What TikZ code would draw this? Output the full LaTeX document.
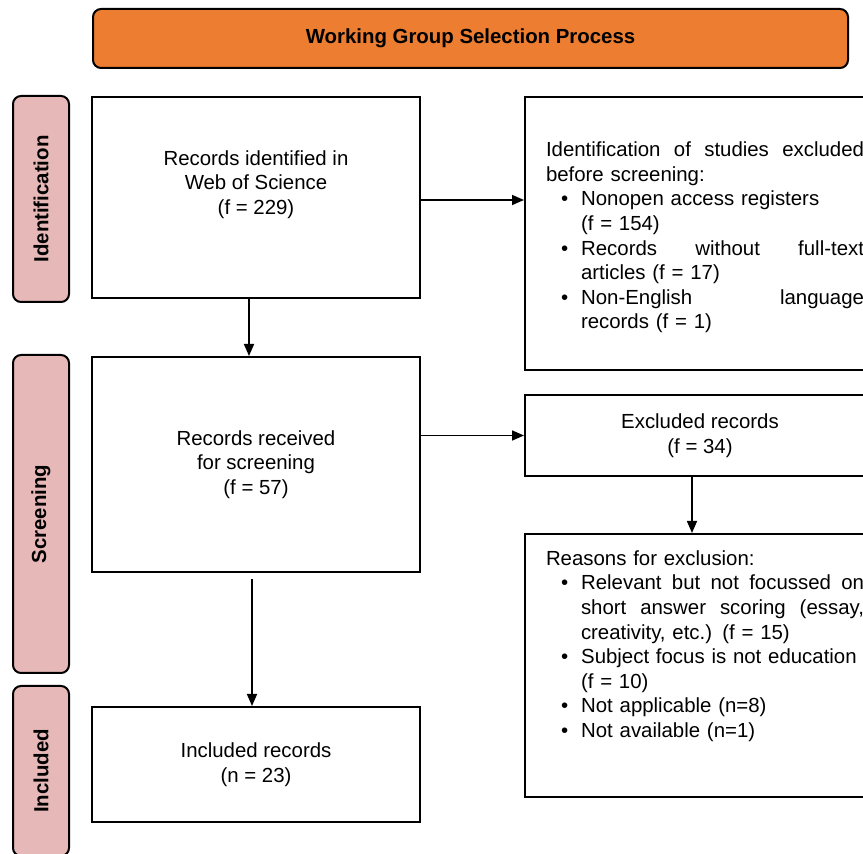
\documentclass[tikz,border=0pt]{standalone}
\usepackage{fontspec}
\setmainfont{Liberation Sans}
\usetikzlibrary{positioning,arrows.meta}

\definecolor{titleorange}{HTML}{ED7D31}
\definecolor{stagepink}{HTML}{E6B8B7}

\newenvironment{bullist}{\begin{list}{\textbullet}{\leftmargin=17.5pt \labelsep=6.5pt \labelwidth=3.5pt
  \topsep=0pt \partopsep=0pt \parsep=0pt \itemsep=0pt}}{\end{list}}
\newcommand{\lowpad}[1]{\rule[-#1]{0pt}{#1}}

\tikzset{
  every node/.style={font=\fontsize{10.2}{12.3}\selectfont},
  stepbox/.style={draw, line width=1pt, rectangle, minimum width=164pt, align=center},
  sidebox/.style={draw, line width=1pt, rectangle, text width=159pt, inner xsep=10.5pt, align=left, anchor=north west},
  stage/.style={draw, line width=1pt, fill=stagepink, rounded corners=4pt, rotate=90, minimum height=28pt, font=\fontsize{10.2}{12.3}\selectfont\bfseries},
  flow/.style={-{Triangle[length=6pt,width=5pt]}, line width=0.8pt}
}

\begin{document}
\begin{tikzpicture}[x=0.5pt, y=-0.5pt]
\useasboundingbox (0,0) rectangle (863,854);
\node[draw, line width=1pt, fill=titleorange, rounded corners=4pt, minimum width=377.5pt, minimum height=29.5pt, font=\fontsize{10.2}{12.3}\selectfont\bfseries]
  (title) at (470.5,38.5) {Working Group Selection Process};

\node[stage, minimum width=103pt] (idlab) at (41,199) {Identification};
\node[stage, minimum width=159pt] (scrlab) at (41,514) {Screening};
\node[stage, minimum width=85pt] (inclab) at (41,771) {Included};

\node[stepbox, minimum height=100.5pt] (ident) at (256,197.5) {Records identified in\\Web of Science\\(f = 229)\lowpad{15pt}};
\node[stepbox, minimum height=107.5pt, below=28.5pt of ident] (recv) {Records received\\for screening\\(f = 57)};
\node[stepbox, minimum height=57.5pt, below=66.5pt of recv] (incl) {Included records\\(n = 23)};

\node[sidebox, minimum height=136.5pt, right=51.5pt of ident.north east, anchor=north west] (exbefore) {%
\rule{0pt}{11.5pt}Identification\hfill of\hfill studies\hfill excluded\\
before screening:
\begin{bullist}
\item Nonopen access registers\\(f = 154)
\item Records\hfill without\hfill full-text\\articles (f = 17)
\item Non-English\hfill language\\records (f = 1)
\end{bullist}};
\node[draw, line width=1pt, minimum width=175pt, minimum height=40.5pt, align=center, below=11.5pt of exbefore.south west, anchor=north west] (exrec) {Excluded records\\(f = 34)};
\node[sidebox, minimum height=131.5pt, below=28pt of exrec.south west, anchor=north west] (reasons) {%
Reasons for exclusion:
\begin{bullist}
\item Relevant\hfill but\hfill not\hfill focussed\hfill on\\short\hfill answer\hfill scoring\hfill (essay,\\creativity, etc.) (f = 15)
\item Subject focus is not education\\(f = 10)
\item Not applicable (n=8)
\item Not available (n=1)\lowpad{21.5pt}
\end{bullist}};

\draw[flow] (ident.east |- 0,200) -- (exbefore.west |- 0,200);
\draw[flow] ([xshift=-3.5pt]ident.south) -- ([xshift=-3.5pt]recv.north);
\draw[flow] (recv.east |- exrec.west) -- (exrec.west);
\draw[flow] ([xshift=-4pt]exrec.south) -- ([xshift=-4pt]exrec.south |- reasons.north);
\draw[flow, shorten <=3pt] ([xshift=-2pt]recv.south) -- ([xshift=-2pt]incl.north);
\end{tikzpicture}
\end{document}
